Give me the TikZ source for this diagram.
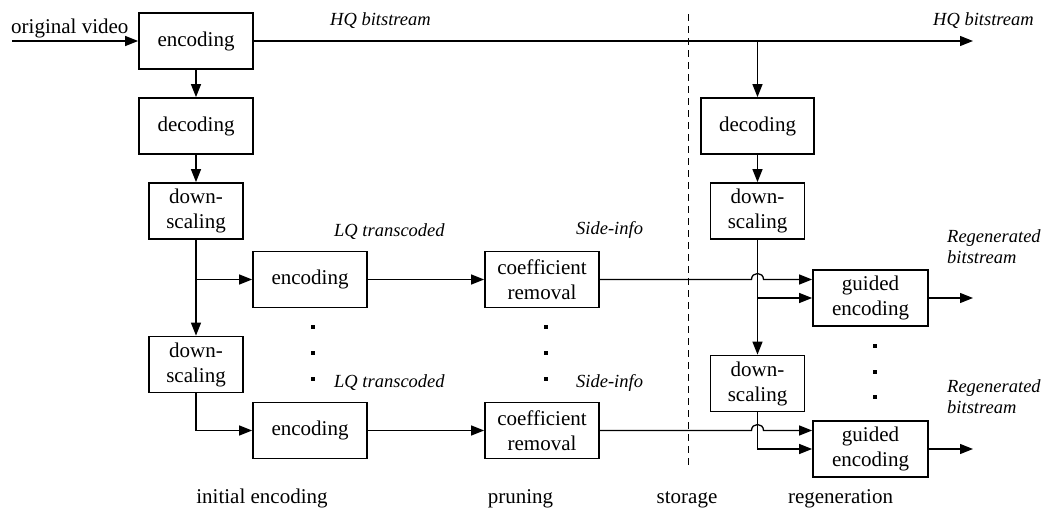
\documentclass[tikz,border=0pt]{standalone}
\usepackage{fontspec}
\setmainfont{Liberation Serif}
\usetikzlibrary{arrows.meta}
\begin{document}
\begin{tikzpicture}[x=1pt,y=-1pt,
  blk/.style={draw,line width=1.8pt,minimum width=114pt,minimum height=56pt,
    inner sep=0pt,align=center,font=\fontsize{21}{25}\selectfont},
  narrow/.style={blk,minimum width=94pt},
  wire/.style={line width=1.3pt},
  flow/.style={wire,-{Triangle[length=13pt,width=10pt]}},
  tag/.style={font=\fontsize{18.5}{21.5}\selectfont\itshape,inner sep=0pt},
  phase/.style={font=\fontsize{21}{25}\selectfont,inner sep=0pt},
  dot/.style={fill,minimum size=3.5pt,inner sep=0pt},
  divider/.style={line width=1pt,dash pattern=on 7pt off 5pt}
]
\useasboundingbox (0,0) rectangle (1043,509);

% ---- initial encoding ----
\node[blk] (enc0) at (196,41) {encoding};
\node[blk] (dec0) at (196,126) {decoding};
\node[narrow] (ds1) at (196,211) {down-\\scaling};
\node[narrow] (ds2) at (196,364.5) {down-\\scaling};
\node[blk] (enc1) at (310,279.5) {encoding};
\node[blk] (enc2) at (310,430.5) {encoding};

% ---- pruning ----
\node[blk] (cr1) at (542,279.5) {coefficient\\removal};
\node[blk] (cr2) at (542,430.5) {coefficient\\removal};

% ---- regeneration ----
\node[blk,minimum width=113pt] (decR) at (757.5,126) {decoding};
\node[narrow] (dsR1) at (757.5,211) {down-\\scaling};
\node[narrow] (dsR2) at (757.5,383.5) {down-\\scaling};
\node[blk,minimum width=115pt] (ge1) at (870.5,298) {guided\\encoding};
\node[blk,minimum width=115pt] (ge2) at (870.5,449) {guided\\encoding};

% ---- free ends ----
\coordinate (src) at (12,41);
\coordinate (hqend) at (973,41);
\coordinate (out1) at (973,298);
\coordinate (out2) at (973,449);
\coordinate (divtop) at (688,14);
\coordinate (divbot) at (688,467);
\coordinate (j1) at (dsR1.south |- cr1.east);
\coordinate (j2) at (dsR1.south |- cr2.east);

% ---- storage divider ----
\draw[divider] (divtop) -- (divbot);

% ---- HQ path ----
\draw[flow] (src) -- (enc0.west);
\draw[flow] (enc0.east) -- (hqend);
\draw[flow] (decR.north |- hqend) -- (decR.north);
\draw[flow] (enc0) -- (dec0);
\draw[flow] (dec0) -- (ds1);

% ---- LQ ladder ----
\draw[flow] (ds1) -- (ds2);
\draw[flow] (ds1.south |- enc1.west) -- (enc1.west);
\draw[flow] (ds2.south) |- (enc2.west);
\draw[flow] (enc1) -- (cr1);
\draw[flow] (enc2) -- (cr2);

% ---- side-info to guided encoders (jumping over the vertical wire) ----
\draw[flow] (cr1.east) -- ([xshift=-6pt]j1)
  .. controls ([xshift=-6pt,yshift=8pt]j1) and ([xshift=6pt,yshift=8pt]j1) .. ([xshift=6pt]j1)
  -- (ge1.west |- j1);
\draw[flow] (cr2.east) -- ([xshift=-6pt]j2)
  .. controls ([xshift=-6pt,yshift=8pt]j2) and ([xshift=6pt,yshift=8pt]j2) .. ([xshift=6pt]j2)
  -- (ge2.west |- j2);

% ---- regeneration chain ----
\draw[flow] (decR) -- (dsR1);
\draw[flow] (dsR1) -- (dsR2);
\draw[flow] (dsR1.south |- ge1.west) -- (ge1.west);
\draw[flow] (dsR2.south) |- (ge2.west);
\draw[flow] (ge1.east) -- (out1);
\draw[flow] (ge2.east) -- (out2);

% ---- ellipsis dots ----
\node[dot] (a1) at (313,327) {};
\node[dot] (a2) at (313,353) {};
\node[dot] (a3) at (313,379) {};
\node[dot] (b1) at (546,327) {};
\node[dot] (b2) at (546,353) {};
\node[dot] (b3) at (546,379) {};
\node[dot] (c1) at (875,346) {};
\node[dot] (c2) at (875,372) {};
\node[dot] (c3) at (875,397) {};

% ---- labels ----
\node[phase,anchor=base west] (orig) at (11,33) {original video};
\node[tag,anchor=base west] (hqL) at (330,25) {HQ bitstream};
\node[tag,anchor=base west] (hqR) at (933,25) {HQ bitstream};
\node[tag,anchor=base west] (lq1) at (334,236) {LQ transcoded};
\node[tag,anchor=base west] (si1) at (576,234) {Side-info};
\node[tag,anchor=base west] (lq2) at (334,387) {LQ transcoded};
\node[tag,anchor=base west] (si2) at (576,387) {Side-info};
\node[tag,anchor=north west,align=left] (rg1) at (947,229) {Regenerated\\bitstream};
\node[tag,anchor=north west,align=left] (rg2) at (947,379) {Regenerated\\bitstream};

\node[phase,anchor=base] (ph1) at (262,503) {initial encoding};
\node[phase,anchor=base] (ph2) at (520.5,503) {pruning};
\node[phase,anchor=base] (ph3) at (687,503) {storage};
\node[phase,anchor=base] (ph4) at (840.5,503) {regeneration};
\end{tikzpicture}
\end{document}
